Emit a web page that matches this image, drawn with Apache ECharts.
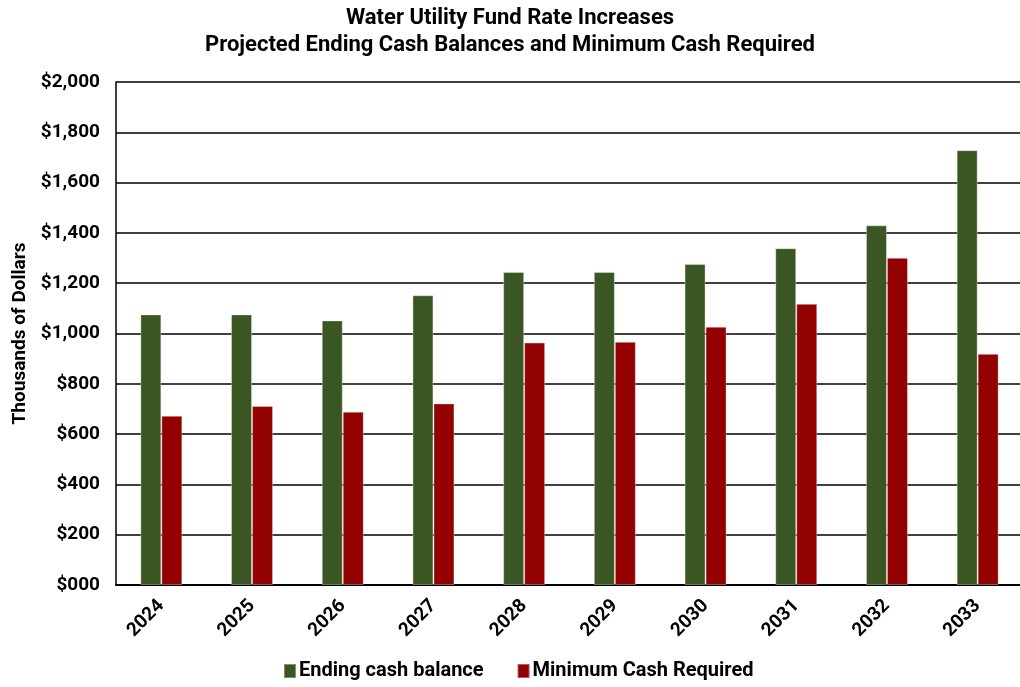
<!DOCTYPE html>
<html>
<head>
<meta charset="utf-8">
<script src="https://cdn.jsdelivr.net/npm/echarts@6/dist/echarts.min.js"></script>
<style>
html,body{margin:0;padding:0;background:#fff;}
#chart{width:1020px;height:687px;}
</style>
</head>
<body>
<div id="chart"></div>
<script>
const years = ['2024','2025','2026','2027','2028','2029','2030','2031','2032','2033'];
const endingCash = [1076, 1076, 1052, 1152, 1245, 1245, 1276, 1339, 1430, 1729];
const minimumCash = [673, 712, 689, 722, 964, 967, 1027, 1118, 1301, 919];
const yTicks = { min: 0, max: 2000, interval: 200 };
const titleLines = ['Water Utility Fund Rate Increases', 'Projected Ending Cash Balances and Minimum Cash Required'];
const seriesNames = ['Ending cash balance', 'Minimum Cash Required'];

const FONT = 'Roboto';
const chart = echarts.init(document.getElementById('chart'));
chart.setOption({
  backgroundColor: '#ffffff',
  animation: false,
  title: {
    text: titleLines.join('\n'),
    left: 'center',
    top: 0,
    textStyle: { fontFamily: FONT, fontWeight: 'bold', fontSize: 22, lineHeight: 27, color: '#000' }
  },
  legend: {
    bottom: 1,
    left: 278,
    itemWidth: 12,
    itemHeight: 14,
    itemGap: 33,
    icon: 'rect',
    textStyle: { fontFamily: FONT, fontWeight: 'bold', fontSize: 20, color: '#000', padding: [0,0,0,-2] },
    data: seriesNames
  },
  grid: { left: 116, right: -3, top: 82, bottom: 102, containLabel: false, outerBoundsMode: 'none' },
  xAxis: {
    type: 'category',
    data: years,
    axisLine: { show: true, lineStyle: { color: '#000', width: 2 } },
    axisTick: { show: false },
    axisLabel: { rotate: 45, fontFamily: FONT, fontWeight: 'bold', fontSize: 19, color: '#000', margin: 18 }
  },
  yAxis: {
    type: 'value',
    min: yTicks.min, max: yTicks.max, interval: yTicks.interval,
    name: 'Thousands of Dollars',
    nameLocation: 'middle',
    nameGap: 86,
    nameTextStyle: { fontFamily: FONT, fontWeight: 'bold', fontSize: 19, color: '#000' },
    axisLine: { show: true, lineStyle: { color: '#000', width: 1.5 } },
    axisTick: { show: false },
    splitLine: { show: true, lineStyle: { color: '#000', width: 1.5 } },
    axisLabel: {
      fontFamily: FONT, fontWeight: 'bold', fontSize: 19, color: '#000', margin: 16,
      formatter: v => '$' + (v === 0 ? '000' : v.toLocaleString('en-US'))
    }
  },
  series: [
    { name: seriesNames[0], type: 'bar', data: endingCash, barWidth: 21, barGap: '0%',
      itemStyle: { color: '#3a5723', borderColor: 'rgba(255,255,255,0.35)', borderWidth: 1 } },
    { name: seriesNames[1], type: 'bar', data: minimumCash, barWidth: 21, barGap: '0%',
      itemStyle: { color: '#930000', borderColor: 'rgba(255,255,255,0.35)', borderWidth: 1 } }
  ]
});
</script>
</body>
</html>
